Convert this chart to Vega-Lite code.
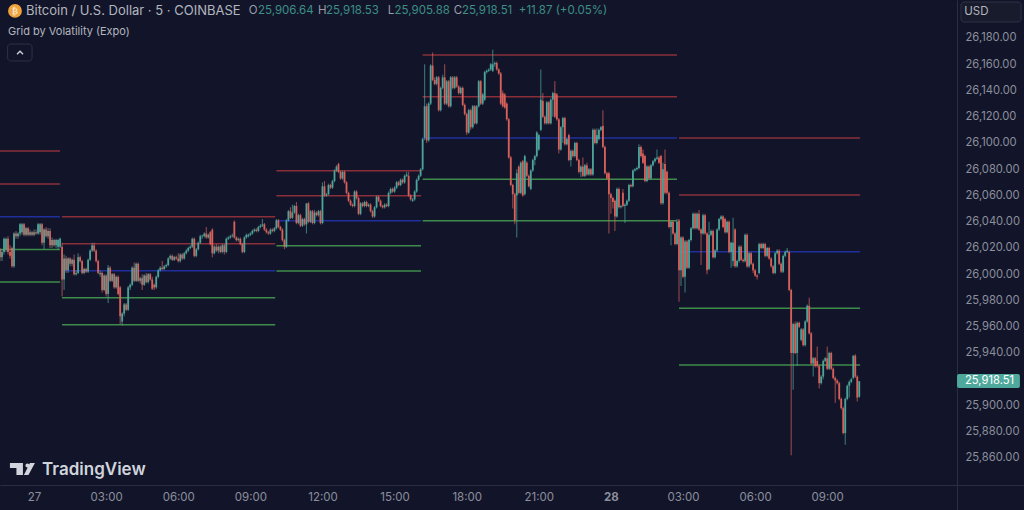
{"$schema":"https://vega.github.io/schema/vega-lite/v6.json","width":1024,"height":510,"padding":0,"autosize":{"type":"none"},"background":"#12152A","view":{"stroke":null,"fill":"#12152A"},"config":{"font":"Inter","text":{"font":"Inter"}},"data":{"values":[{}]},
"datasets":{"levels":[
{"a":-85,"b":65,"p":26093.9,"k":"r"},{"a":-85,"b":65,"p":26068.8,"k":"r"},{"a":-85,"b":65,"p":26043.8,"k":"b"},{"a":-85,"b":65,"p":26018.9,"k":"g"},{"a":-85,"b":65,"p":25994.1,"k":"g"},
{"a":70,"b":602,"p":26043.8,"k":"r"},{"a":70,"b":602,"p":26023.3,"k":"r"},{"a":70,"b":602,"p":26002.7,"k":"b"},{"a":70,"b":602,"p":25982.1,"k":"g"},{"a":70,"b":602,"p":25961.6,"k":"g"},
{"a":605,"b":966,"p":26078.9,"k":"r"},{"a":605,"b":966,"p":26059.8,"k":"r"},{"a":605,"b":966,"p":26040.8,"k":"b"},{"a":605,"b":966,"p":26021.8,"k":"g"},{"a":605,"b":966,"p":26002.5,"k":"g"},
{"a":970,"b":1605,"p":26167.0,"k":"r"},{"a":970,"b":1605,"p":26135.3,"k":"r"},{"a":970,"b":1605,"p":26103.8,"k":"b"},{"a":970,"b":1605,"p":26072.3,"k":"g"},{"a":970,"b":1605,"p":26040.8,"k":"g"},
{"a":1610,"b":2062,"p":26103.8,"k":"r"},{"a":1610,"b":2062,"p":26060.4,"k":"r"},{"a":1610,"b":2062,"p":26017.2,"k":"b"},{"a":1610,"b":2062,"p":25974.1,"k":"g"},{"a":1610,"b":2062,"p":25930.9,"k":"g"}],
"bars":[
{"m":-85,"o":26019,"h":26020,"l":26010,"c":26013},{"m":-80,"o":26013,"h":26019,"l":26010,"c":26017},{"m":-75,"o":26017,"h":26028,"l":26015,"c":26027},{"m":-70,"o":26019,"h":26028,"l":26017,"c":26027},{"m":-65,"o":26027,"h":26029,"l":26015,"c":26017},{"m":-60,"o":26017,"h":26022,"l":26012,"c":26014},{"m":-55,"o":26020,"h":26021,"l":26005,"c":26006},{"m":-50,"o":26006,"h":26032,"l":26005,"c":26031},{"m":-45,"o":26031,"h":26033,"l":26027,"c":26029},{"m":-40,"o":26029,"h":26032,"l":26027,"c":26031},{"m":-35,"o":26031,"h":26039,"l":26029,"c":26038},{"m":-30,"o":26032,"h":26039,"l":26030,"c":26038},{"m":-25,"o":26038,"h":26039,"l":26029,"c":26030},{"m":-20,"o":26030,"h":26036,"l":26029,"c":26035},{"m":-15,"o":26035,"h":26036,"l":26029,"c":26030},{"m":-10,"o":26030,"h":26034,"l":26029,"c":26032},{"m":-5,"o":26032,"h":26033,"l":26029,"c":26030},{"m":0,"o":26030,"h":26034,"l":26029,"c":26032},{"m":5,"o":26032,"h":26034,"l":26030,"c":26031},{"m":10,"o":26031,"h":26039,"l":26030,"c":26038},{"m":15,"o":26032,"h":26039,"l":26030,"c":26038},{"m":20,"o":26038,"h":26039,"l":26022,"c":26024},{"m":25,"o":26024,"h":26035,"l":26019,"c":26034},{"m":30,"o":26034,"h":26036,"l":26028,"c":26029},{"m":35,"o":26029,"h":26035,"l":26027,"c":26033},{"m":40,"o":26033,"h":26035,"l":26020,"c":26022},{"m":45,"o":26022,"h":26028,"l":26020,"c":26026},{"m":50,"o":26026,"h":26027,"l":26021,"c":26022},{"m":55,"o":26022,"h":26027,"l":26020,"c":26026},{"m":60,"o":26021,"h":26027,"l":26019,"c":26026},{"m":65,"o":26021,"h":26028,"l":26020,"c":26027},
{"m":70,"o":26021,"h":26024,"l":25983,"c":25996},{"m":75,"o":25996,"h":26015,"l":25988,"c":26012},{"m":80,"o":26012,"h":26014,"l":26001,"c":26003},{"m":85,"o":26003,"h":26013,"l":26001,"c":26012},{"m":90,"o":26012,"h":26013,"l":26006,"c":26008},{"m":95,"o":26008,"h":26012,"l":26006,"c":26011},{"m":100,"o":26011,"h":26015,"l":25999,"c":26000},{"m":105,"o":26000,"h":26003,"l":25999,"c":26001},{"m":110,"o":26001,"h":26016,"l":26000,"c":26013},{"m":115,"o":26013,"h":26014,"l":26009,"c":26010},{"m":120,"o":26010,"h":26011,"l":26000,"c":26001},{"m":125,"o":26001,"h":26005,"l":26000,"c":26004},{"m":130,"o":26004,"h":26005,"l":26001,"c":26002},{"m":135,"o":26002,"h":26012,"l":26001,"c":26011},{"m":140,"o":26011,"h":26019,"l":26010,"c":26018},{"m":145,"o":26018,"h":26024,"l":26017,"c":26022},{"m":150,"o":26022,"h":26024,"l":26017,"c":26018},{"m":155,"o":26018,"h":26019,"l":26009,"c":26010},{"m":160,"o":26010,"h":26011,"l":26000,"c":26001},{"m":165,"o":26000,"h":26003,"l":25998,"c":26001},{"m":170,"o":26001,"h":26002,"l":25986,"c":25988},{"m":175,"o":25988,"h":26000,"l":25987,"c":25999},{"m":180,"o":25999,"h":26000,"l":25983,"c":25985},{"m":185,"o":25985,"h":26007,"l":25978,"c":26005},{"m":190,"o":26005,"h":26006,"l":25994,"c":25995},{"m":195,"o":25995,"h":26001,"l":25994,"c":26000},{"m":200,"o":26000,"h":26001,"l":25989,"c":25990},{"m":205,"o":25990,"h":25999,"l":25989,"c":25998},{"m":210,"o":25998,"h":25999,"l":25984,"c":25985},{"m":215,"o":25990,"h":25991,"l":25962,"c":25968},{"m":220,"o":25964,"h":25971,"l":25961,"c":25970},{"m":225,"o":25970,"h":25978,"l":25968,"c":25977},{"m":230,"o":25977,"h":25978,"l":25972,"c":25973},{"m":235,"o":25973,"h":25991,"l":25972,"c":25990},{"m":240,"o":25990,"h":25993,"l":25988,"c":25992},{"m":245,"o":25992,"h":26006,"l":25991,"c":26005},{"m":250,"o":26005,"h":26009,"l":25994,"c":25995},{"m":255,"o":25995,"h":26009,"l":25994,"c":26008},{"m":260,"o":26008,"h":26009,"l":25994,"c":25995},{"m":265,"o":25995,"h":25998,"l":25993,"c":25997},{"m":270,"o":25997,"h":26000,"l":25988,"c":25992},{"m":275,"o":25992,"h":26000,"l":25991,"c":25999},{"m":280,"o":25999,"h":26001,"l":25993,"c":25994},{"m":285,"o":25994,"h":26001,"l":25993,"c":26000},{"m":290,"o":26000,"h":26001,"l":25995,"c":25996},{"m":295,"o":25996,"h":25998,"l":25988,"c":25989},{"m":300,"o":25992,"h":25993,"l":25988,"c":25990},{"m":305,"o":25990,"h":25999,"l":25989,"c":25998},{"m":310,"o":25998,"h":26004,"l":25997,"c":26003},{"m":315,"o":26003,"h":26006,"l":26002,"c":26005},{"m":320,"o":26005,"h":26010,"l":26003,"c":26004},{"m":325,"o":26004,"h":26007,"l":26003,"c":26006},{"m":330,"o":26006,"h":26008,"l":26005,"c":26007},{"m":335,"o":26007,"h":26013,"l":26006,"c":26012},{"m":340,"o":26012,"h":26015,"l":26011,"c":26014},{"m":345,"o":26014,"h":26015,"l":26010,"c":26011},{"m":350,"o":26011,"h":26014,"l":26010,"c":26013},{"m":355,"o":26013,"h":26014,"l":26011,"c":26012},{"m":360,"o":26012,"h":26016,"l":26009,"c":26010},{"m":365,"o":26010,"h":26016,"l":26009,"c":26015},{"m":370,"o":26015,"h":26016,"l":26011,"c":26012},{"m":375,"o":26012,"h":26017,"l":26011,"c":26016},{"m":380,"o":26016,"h":26019,"l":26015,"c":26018},{"m":385,"o":26018,"h":26021,"l":26017,"c":26020},{"m":390,"o":26020,"h":26022,"l":26019,"c":26021},{"m":395,"o":26021,"h":26028,"l":26020,"c":26027},{"m":400,"o":26027,"h":26028,"l":26013,"c":26014},{"m":405,"o":26014,"h":26020,"l":26013,"c":26019},{"m":410,"o":26019,"h":26025,"l":26018,"c":26024},{"m":415,"o":26024,"h":26030,"l":26023,"c":26029},{"m":420,"o":26029,"h":26030,"l":26027,"c":26029.5},{"m":425,"o":26029,"h":26032,"l":26028,"c":26031},{"m":430,"o":26031,"h":26036,"l":26027,"c":26028},{"m":435,"o":26028,"h":26031,"l":26027,"c":26030},{"m":440,"o":26032,"h":26033,"l":26022,"c":26023},{"m":445,"o":26034,"h":26035,"l":26013,"c":26016},{"m":450,"o":26016,"h":26022,"l":26015,"c":26021},{"m":455,"o":26021,"h":26023,"l":26017,"c":26018},{"m":460,"o":26018,"h":26022,"l":26016,"c":26021},{"m":465,"o":26021,"h":26022,"l":26016,"c":26017},{"m":470,"o":26017,"h":26023,"l":26016,"c":26022},{"m":475,"o":26022,"h":26023,"l":26015,"c":26017},{"m":480,"o":26017,"h":26028,"l":26016,"c":26027},{"m":485,"o":26027,"h":26029,"l":26026,"c":26028},{"m":490,"o":26028,"h":26030,"l":26027,"c":26029},{"m":495,"o":26029,"h":26031,"l":26028,"c":26029.5},{"m":500,"o":26040,"h":26041,"l":26027,"c":26028},{"m":505,"o":26028,"h":26029,"l":26025,"c":26026},{"m":510,"o":26026,"h":26028,"l":26025,"c":26027},{"m":515,"o":26027,"h":26028,"l":26022,"c":26023},{"m":520,"o":26023,"h":26024,"l":26016,"c":26017},{"m":525,"o":26017,"h":26029,"l":26016,"c":26028},{"m":530,"o":26028,"h":26031,"l":26027,"c":26030},{"m":535,"o":26029,"h":26031,"l":26028,"c":26030},{"m":540,"o":26030,"h":26032,"l":26029,"c":26031},{"m":545,"o":26031,"h":26034,"l":26030,"c":26033},{"m":550,"o":26033,"h":26035,"l":26032,"c":26034},{"m":555,"o":26034,"h":26035,"l":26032,"c":26033},{"m":560,"o":26033,"h":26037,"l":26032,"c":26036},{"m":565,"o":26036,"h":26038,"l":26035,"c":26037},{"m":570,"o":26037,"h":26042,"l":26036,"c":26038},{"m":575,"o":26038,"h":26039,"l":26033,"c":26034},{"m":580,"o":26034,"h":26035,"l":26031,"c":26032},{"m":585,"o":26032,"h":26033,"l":26030,"c":26031},{"m":590,"o":26031,"h":26035,"l":26030,"c":26034},{"m":595,"o":26034,"h":26035,"l":26032,"c":26033},{"m":600,"o":26033,"h":26036,"l":26032,"c":26035},{"m":605,"o":26035,"h":26042,"l":26034,"c":26041},
{"m":610,"o":26041,"h":26042,"l":26035,"c":26036},{"m":615,"o":26036,"h":26037,"l":26033,"c":26034},{"m":620,"o":26034,"h":26035,"l":26025,"c":26026},{"m":625,"o":26026,"h":26027,"l":26019,"c":26021},{"m":630,"o":26021,"h":26042,"l":26020,"c":26041},{"m":635,"o":26041,"h":26049,"l":26040,"c":26048},{"m":640,"o":26048,"h":26051,"l":26042,"c":26043},{"m":645,"o":26043,"h":26053,"l":26042,"c":26047},{"m":650,"o":26047,"h":26053,"l":26046,"c":26052},{"m":655,"o":26052,"h":26055,"l":26038,"c":26039},{"m":660,"o":26039,"h":26046,"l":26038,"c":26045},{"m":665,"o":26045,"h":26046,"l":26036,"c":26037},{"m":670,"o":26037,"h":26043,"l":26036,"c":26042},{"m":675,"o":26042,"h":26043,"l":26037,"c":26038},{"m":680,"o":26038,"h":26054,"l":26031,"c":26054},{"m":685,"o":26054,"h":26055,"l":26039,"c":26040},{"m":690,"o":26040,"h":26049,"l":26039,"c":26048},{"m":695,"o":26048,"h":26049,"l":26038,"c":26039},{"m":700,"o":26039,"h":26049,"l":26038,"c":26047},{"m":705,"o":26047,"h":26048,"l":26044,"c":26045},{"m":710,"o":26045,"h":26049,"l":26044,"c":26048},{"m":715,"o":26048,"h":26049,"l":26038,"c":26039},{"m":720,"o":26039,"h":26070,"l":26038,"c":26067},{"m":725,"o":26067,"h":26071,"l":26059,"c":26060},{"m":730,"o":26060,"h":26062,"l":26059,"c":26061},{"m":735,"o":26061,"h":26069,"l":26060,"c":26068},{"m":740,"o":26068,"h":26069,"l":26065,"c":26066},{"m":745,"o":26066,"h":26072,"l":26065,"c":26071},{"m":750,"o":26071,"h":26080,"l":26070,"c":26079},{"m":755,"o":26079,"h":26083,"l":26078,"c":26082},{"m":760,"o":26084,"h":26085,"l":26077,"c":26078},{"m":765,"o":26078,"h":26079,"l":26072,"c":26073},{"m":770,"o":26073,"h":26079,"l":26072,"c":26078},{"m":775,"o":26078,"h":26079,"l":26069,"c":26070},{"m":780,"o":26070,"h":26071,"l":26061,"c":26062},{"m":785,"o":26062,"h":26063,"l":26055,"c":26056},{"m":790,"o":26056,"h":26057,"l":26052,"c":26053},{"m":795,"o":26053,"h":26054,"l":26051,"c":26052},{"m":800,"o":26052,"h":26064,"l":26051,"c":26063},{"m":805,"o":26063,"h":26064,"l":26057,"c":26058},{"m":810,"o":26058,"h":26059,"l":26045,"c":26046},{"m":815,"o":26046,"h":26055,"l":26045,"c":26054},{"m":820,"o":26054,"h":26055,"l":26051,"c":26052},{"m":825,"o":26052,"h":26056,"l":26051,"c":26055},{"m":830,"o":26055,"h":26056,"l":26051,"c":26052},{"m":835,"o":26052,"h":26054,"l":26051,"c":26053},{"m":840,"o":26053,"h":26054,"l":26047,"c":26048},{"m":845,"o":26048,"h":26049,"l":26043,"c":26044},{"m":850,"o":26044,"h":26052,"l":26043,"c":26051},{"m":855,"o":26051,"h":26060,"l":26050,"c":26059},{"m":860,"o":26059,"h":26060,"l":26055,"c":26056},{"m":865,"o":26056,"h":26057,"l":26051,"c":26052},{"m":870,"o":26052,"h":26053,"l":26050,"c":26051},{"m":875,"o":26051,"h":26054,"l":26050,"c":26053},{"m":880,"o":26053,"h":26054,"l":26051,"c":26052},{"m":885,"o":26052,"h":26063,"l":26051,"c":26062},{"m":890,"o":26062,"h":26066,"l":26061,"c":26065},{"m":895,"o":26065,"h":26066,"l":26062,"c":26063},{"m":900,"o":26063,"h":26067,"l":26062,"c":26066},{"m":905,"o":26066,"h":26071,"l":26065,"c":26070},{"m":910,"o":26070,"h":26071,"l":26067,"c":26068},{"m":915,"o":26068,"h":26073,"l":26067,"c":26072},{"m":920,"o":26072,"h":26073,"l":26069,"c":26070},{"m":925,"o":26070,"h":26076,"l":26069,"c":26075},{"m":930,"o":26075,"h":26078,"l":26074,"c":26076},{"m":935,"o":26075,"h":26078,"l":26059,"c":26060},{"m":940,"o":26060,"h":26061,"l":26056,"c":26057},{"m":945,"o":26056,"h":26058,"l":26055,"c":26057},{"m":950,"o":26057,"h":26064,"l":26056,"c":26063},{"m":955,"o":26063,"h":26073,"l":26062,"c":26072},{"m":960,"o":26072,"h":26076,"l":26071,"c":26075},{"m":965,"o":26075,"h":26081,"l":26074,"c":26080},
{"m":970,"o":26080,"h":26104,"l":26079,"c":26103},{"m":975,"o":26104,"h":26160,"l":26102,"c":26128},{"m":980,"o":26128,"h":26130,"l":26100,"c":26102},{"m":985,"o":26102,"h":26131,"l":26101,"c":26130},{"m":990,"o":26130,"h":26160,"l":26129,"c":26159},{"m":995,"o":26159,"h":26169,"l":26147,"c":26148},{"m":1000,"o":26148,"h":26150,"l":26144,"c":26145},{"m":1005,"o":26145,"h":26151,"l":26144,"c":26150},{"m":1010,"o":26150,"h":26151,"l":26124,"c":26125},{"m":1015,"o":26125,"h":26143,"l":26124,"c":26142},{"m":1020,"o":26142,"h":26152,"l":26141,"c":26150},{"m":1025,"o":26150,"h":26160,"l":26129,"c":26130},{"m":1030,"o":26130,"h":26148,"l":26129,"c":26147},{"m":1035,"o":26147,"h":26148,"l":26127,"c":26128},{"m":1040,"o":26128,"h":26151,"l":26127,"c":26150},{"m":1045,"o":26150,"h":26151,"l":26141,"c":26142},{"m":1050,"o":26142,"h":26151,"l":26141,"c":26150},{"m":1055,"o":26150,"h":26151,"l":26142,"c":26143},{"m":1060,"o":26143,"h":26144,"l":26137,"c":26138},{"m":1065,"o":26138,"h":26143,"l":26137,"c":26142},{"m":1070,"o":26142,"h":26143,"l":26128,"c":26129},{"m":1075,"o":26129,"h":26130,"l":26121,"c":26122},{"m":1080,"o":26122,"h":26123,"l":26106,"c":26108},{"m":1085,"o":26108,"h":26126,"l":26107,"c":26125},{"m":1090,"o":26125,"h":26126,"l":26110,"c":26112},{"m":1095,"o":26112,"h":26129,"l":26111,"c":26128},{"m":1100,"o":26128,"h":26129,"l":26114,"c":26115},{"m":1105,"o":26115,"h":26129,"l":26114,"c":26128},{"m":1110,"o":26128,"h":26148,"l":26127,"c":26147},{"m":1115,"o":26147,"h":26148,"l":26129,"c":26130},{"m":1120,"o":26130,"h":26138,"l":26129,"c":26137},{"m":1125,"o":26133,"h":26155,"l":26132,"c":26154},{"m":1130,"o":26154,"h":26156,"l":26153,"c":26155},{"m":1135,"o":26155,"h":26157,"l":26154,"c":26156},{"m":1140,"o":26156,"h":26161,"l":26155,"c":26160},{"m":1145,"o":26155,"h":26171,"l":26154,"c":26160},{"m":1150,"o":26160,"h":26162,"l":26158,"c":26161},{"m":1155,"o":26161,"h":26162,"l":26155,"c":26156},{"m":1160,"o":26156,"h":26157,"l":26152,"c":26153},{"m":1165,"o":26153,"h":26154,"l":26129,"c":26130},{"m":1170,"o":26138,"h":26140,"l":26127,"c":26128},{"m":1175,"o":26137,"h":26138,"l":26126,"c":26127},{"m":1180,"o":26130,"h":26131,"l":26117,"c":26118},{"m":1185,"o":26118,"h":26119,"l":26088,"c":26089},{"m":1190,"o":26089,"h":26090,"l":26067,"c":26068},{"m":1195,"o":26068,"h":26069,"l":26050,"c":26061},{"m":1200,"o":26061,"h":26062,"l":26038,"c":26041},{"m":1205,"o":26060,"h":26080,"l":26028,"c":26077},{"m":1210,"o":26082,"h":26083,"l":26061,"c":26062},{"m":1215,"o":26062,"h":26086,"l":26061,"c":26085},{"m":1220,"o":26086,"h":26087,"l":26059,"c":26060},{"m":1225,"o":26061,"h":26091,"l":26060,"c":26090},{"m":1230,"o":26085,"h":26086,"l":26074,"c":26075},{"m":1235,"o":26075,"h":26076,"l":26066,"c":26067},{"m":1240,"o":26065,"h":26080,"l":26064,"c":26079},{"m":1245,"o":26079,"h":26088,"l":26078,"c":26087},{"m":1250,"o":26087,"h":26091,"l":26083,"c":26090},{"m":1255,"o":26090,"h":26109,"l":26089,"c":26108},{"m":1260,"o":26095,"h":26107,"l":26094,"c":26106},{"m":1265,"o":26110,"h":26156,"l":26109,"c":26133},{"m":1270,"o":26132,"h":26138,"l":26119,"c":26120},{"m":1275,"o":26120,"h":26121,"l":26114,"c":26115},{"m":1280,"o":26115,"h":26132,"l":26114,"c":26131},{"m":1285,"o":26131,"h":26132,"l":26114,"c":26115},{"m":1290,"o":26115,"h":26134,"l":26114,"c":26133},{"m":1295,"o":26133,"h":26139,"l":26120,"c":26138},{"m":1300,"o":26138,"h":26147,"l":26119,"c":26120},{"m":1305,"o":26137,"h":26138,"l":26117,"c":26118},{"m":1310,"o":26118,"h":26119,"l":26092,"c":26095},{"m":1315,"o":26095,"h":26113,"l":26094,"c":26112},{"m":1320,"o":26112,"h":26120,"l":26100,"c":26119},{"m":1325,"o":26119,"h":26120,"l":26098,"c":26099},{"m":1330,"o":26099,"h":26104,"l":26098,"c":26103},{"m":1335,"o":26106,"h":26107,"l":26086,"c":26087},{"m":1340,"o":26087,"h":26095,"l":26082,"c":26094},{"m":1345,"o":26094,"h":26095,"l":26089,"c":26090},{"m":1350,"o":26090,"h":26101,"l":26089,"c":26100},{"m":1355,"o":26100,"h":26101,"l":26086,"c":26087},{"m":1360,"o":26087,"h":26088,"l":26077,"c":26078},{"m":1365,"o":26078,"h":26083,"l":26074,"c":26082},{"m":1370,"o":26082,"h":26089,"l":26074,"c":26075},{"m":1375,"o":26075,"h":26084,"l":26074,"c":26083},{"m":1380,"o":26083,"h":26085,"l":26075,"c":26076},{"m":1385,"o":26076,"h":26081,"l":26075,"c":26080},{"m":1390,"o":26080,"h":26081,"l":26075,"c":26076},{"m":1395,"o":26076,"h":26111,"l":26075,"c":26110},{"m":1400,"o":26110,"h":26111,"l":26099,"c":26100},{"m":1405,"o":26100,"h":26111,"l":26099,"c":26106},{"m":1410,"o":26103,"h":26111,"l":26102,"c":26110},{"m":1415,"o":26110,"h":26113,"l":26109,"c":26112},{"m":1420,"o":26113,"h":26125,"l":26096,"c":26097},{"m":1425,"o":26097,"h":26098,"l":26076,"c":26077},{"m":1430,"o":26077,"h":26078,"l":26072,"c":26073},{"m":1435,"o":26077,"h":26078,"l":26031,"c":26061},{"m":1440,"o":26061,"h":26062,"l":26046,"c":26058},{"m":1445,"o":26058,"h":26059,"l":26050,"c":26055},{"m":1450,"o":26056,"h":26057,"l":26033,"c":26044},{"m":1455,"o":26044,"h":26066,"l":26043,"c":26065},{"m":1460,"o":26065,"h":26066,"l":26050,"c":26051},{"m":1465,"o":26051,"h":26053,"l":26050,"c":26052},{"m":1470,"o":26062,"h":26065,"l":26051,"c":26052},{"m":1475,"o":26052,"h":26054,"l":26039,"c":26053},{"m":1480,"o":26053,"h":26057,"l":26052,"c":26056},{"m":1485,"o":26056,"h":26069,"l":26055,"c":26068},{"m":1490,"o":26068,"h":26069,"l":26066,"c":26067},{"m":1495,"o":26067,"h":26080,"l":26066,"c":26079},{"m":1500,"o":26079,"h":26081,"l":26078,"c":26080},{"m":1505,"o":26080,"h":26082,"l":26079,"c":26081},{"m":1510,"o":26081,"h":26099,"l":26080,"c":26097},{"m":1515,"o":26097,"h":26098,"l":26089,"c":26090},{"m":1520,"o":26092,"h":26095,"l":26084,"c":26085},{"m":1525,"o":26090,"h":26091,"l":26070,"c":26071},{"m":1530,"o":26071,"h":26083,"l":26070,"c":26082},{"m":1535,"o":26082,"h":26083,"l":26072,"c":26073},{"m":1540,"o":26073,"h":26084,"l":26072,"c":26083},{"m":1545,"o":26083,"h":26087,"l":26082,"c":26086},{"m":1550,"o":26086,"h":26089,"l":26085,"c":26088},{"m":1555,"o":26088,"h":26095,"l":26087,"c":26089},{"m":1560,"o":26089,"h":26090,"l":26084,"c":26085},{"m":1565,"o":26090,"h":26091,"l":26053,"c":26054},{"m":1570,"o":26054,"h":26085,"l":26053,"c":26080},{"m":1575,"o":26084,"h":26095,"l":26061,"c":26062},{"m":1580,"o":26078,"h":26079,"l":26061,"c":26062},{"m":1585,"o":26062,"h":26063,"l":26035,"c":26036},{"m":1590,"o":26036,"h":26041,"l":26022,"c":26040},{"m":1595,"o":26040,"h":26041,"l":26030,"c":26031},{"m":1600,"o":26031,"h":26032,"l":26022,"c":26023},{"m":1605,"o":26023,"h":26042,"l":26022,"c":26040},
{"m":1610,"o":26041,"h":26042,"l":25979,"c":26003},{"m":1615,"o":26003,"h":26029,"l":25991,"c":26028},{"m":1620,"o":26028,"h":26029,"l":25997,"c":25998},{"m":1625,"o":25998,"h":26026,"l":25986,"c":26025},{"m":1630,"o":26025,"h":26026,"l":26004,"c":26005},{"m":1635,"o":26005,"h":26027,"l":26004,"c":26026},{"m":1640,"o":26026,"h":26036,"l":26025,"c":26035},{"m":1645,"o":26035,"h":26047,"l":26034,"c":26046},{"m":1650,"o":26046,"h":26047,"l":26034,"c":26035},{"m":1655,"o":26035,"h":26047,"l":26034,"c":26046},{"m":1660,"o":26046,"h":26049,"l":26033,"c":26034},{"m":1665,"o":26034,"h":26035,"l":26007,"c":26031},{"m":1670,"o":26031,"h":26046,"l":26030,"c":26045},{"m":1675,"o":26045,"h":26046,"l":26030,"c":26031},{"m":1680,"o":26031,"h":26032,"l":26000,"c":26003},{"m":1685,"o":26004,"h":26040,"l":26003,"c":26030},{"m":1690,"o":26030,"h":26034,"l":26029,"c":26033},{"m":1695,"o":26033,"h":26034,"l":26012,"c":26013},{"m":1700,"o":26013,"h":26019,"l":26012,"c":26018},{"m":1705,"o":26018,"h":26035,"l":26017,"c":26034},{"m":1710,"o":26034,"h":26043,"l":26033,"c":26042},{"m":1715,"o":26042,"h":26045,"l":26041,"c":26044},{"m":1720,"o":26044,"h":26045,"l":26035,"c":26036},{"m":1725,"o":26042,"h":26043,"l":26031,"c":26032},{"m":1730,"o":26032,"h":26041,"l":26031,"c":26040},{"m":1735,"o":26040,"h":26041,"l":26016,"c":26017},{"m":1740,"o":26017,"h":26025,"l":26005,"c":26024},{"m":1745,"o":26010,"h":26043,"l":26006,"c":26024},{"m":1750,"o":26034,"h":26035,"l":26005,"c":26006},{"m":1755,"o":26006,"h":26011,"l":26005,"c":26010},{"m":1760,"o":26010,"h":26022,"l":26009,"c":26021},{"m":1765,"o":26021,"h":26022,"l":26010,"c":26011},{"m":1770,"o":26011,"h":26012,"l":26009,"c":26010},{"m":1775,"o":26010,"h":26031,"l":26009,"c":26030},{"m":1780,"o":26030,"h":26031,"l":26005,"c":26006},{"m":1785,"o":26006,"h":26017,"l":26005,"c":26016},{"m":1790,"o":26016,"h":26017,"l":26007,"c":26008},{"m":1795,"o":26008,"h":26009,"l":26001,"c":26003},{"m":1800,"o":26003,"h":26004,"l":25998,"c":25999},{"m":1805,"o":25999,"h":26000,"l":25996,"c":25998},{"m":1810,"o":26001,"h":26024,"l":26000,"c":26023},{"m":1815,"o":26023,"h":26024,"l":26019,"c":26020},{"m":1820,"o":26020,"h":26024,"l":26019,"c":26023},{"m":1825,"o":26023,"h":26024,"l":26013,"c":26014},{"m":1830,"o":26014,"h":26021,"l":26013,"c":26020},{"m":1835,"o":26020,"h":26021,"l":26011,"c":26012},{"m":1840,"o":26012,"h":26013,"l":26005,"c":26006},{"m":1845,"o":26006,"h":26007,"l":26000,"c":26001},{"m":1850,"o":26001,"h":26017,"l":26000,"c":26016},{"m":1855,"o":26016,"h":26019,"l":26015,"c":26018},{"m":1860,"o":26018,"h":26019,"l":26007,"c":26008},{"m":1865,"o":26008,"h":26009,"l":26001,"c":26002},{"m":1870,"o":26002,"h":26015,"l":26001,"c":26014},{"m":1875,"o":26014,"h":26018,"l":26013,"c":26017},{"m":1880,"o":26017,"h":26020,"l":26016,"c":26018},{"m":1885,"o":26017,"h":26018,"l":25987,"c":25988},{"m":1890,"o":25988,"h":25989,"l":25862,"c":25940},{"m":1895,"o":25940,"h":25963,"l":25912,"c":25962},{"m":1900,"o":25962,"h":25964,"l":25939,"c":25940},{"m":1905,"o":25940,"h":25964,"l":25930,"c":25963},{"m":1910,"o":25963,"h":25964,"l":25959,"c":25960},{"m":1915,"o":25950,"h":25959,"l":25949,"c":25958},{"m":1920,"o":25958,"h":25959,"l":25945,"c":25946},{"m":1925,"o":25946,"h":25965,"l":25945,"c":25964},{"m":1930,"o":25964,"h":25977,"l":25963,"c":25976},{"m":1935,"o":25976,"h":25982,"l":25954,"c":25955},{"m":1940,"o":25955,"h":25956,"l":25931,"c":25932},{"m":1945,"o":25932,"h":25937,"l":25922,"c":25936},{"m":1950,"o":25936,"h":25937,"l":25929,"c":25930},{"m":1955,"o":25934,"h":25945,"l":25929,"c":25930},{"m":1960,"o":25930,"h":25931,"l":25913,"c":25917},{"m":1965,"o":25917,"h":25923,"l":25916,"c":25922},{"m":1970,"o":25922,"h":25935,"l":25920,"c":25934},{"m":1975,"o":25934,"h":25937,"l":25933,"c":25936},{"m":1980,"o":25936,"h":25945,"l":25927,"c":25928},{"m":1985,"o":25928,"h":25941,"l":25927,"c":25940},{"m":1990,"o":25940,"h":25941,"l":25927,"c":25928},{"m":1995,"o":25928,"h":25929,"l":25920,"c":25921},{"m":2000,"o":25921,"h":25922,"l":25902,"c":25919},{"m":2005,"o":25919,"h":25920,"l":25916,"c":25917},{"m":2010,"o":25917,"h":25918,"l":25904,"c":25905},{"m":2015,"o":25905,"h":25906,"l":25897,"c":25898},{"m":2020,"o":25898,"h":25899,"l":25878,"c":25879},{"m":2025,"o":25879,"h":25906,"l":25870,"c":25905},{"m":2030,"o":25905,"h":25916,"l":25904,"c":25915},{"m":2035,"o":25915,"h":25919,"l":25906,"c":25918},{"m":2040,"o":25918,"h":25921,"l":25917,"c":25920},{"m":2045,"o":25921,"h":25938,"l":25920,"c":25938},{"m":2050,"o":25938,"h":25939,"l":25921,"c":25922},{"m":2055,"o":25922,"h":25923,"l":25903,"c":25906},{"m":2060,"o":25906.64,"h":25918.53,"l":25905.88,"c":25918.51}]},
"layer":[
{"data":{"name":"levels"},"mark":{"type":"rule","strokeWidth":1.5},"encoding":{"x":{"field":"a","type":"quantitative","title":null,"scale":{"domain":[-85,2471.2],"nice":false,"zero":false},"axis":{"orient":"bottom","offset":-25,"tickCount":40,"values":[0,180,360,540,720,900,1080,1260,1440,1620,1800,1980],"labelExpr":"datum.value%1440==0?''+(27+datum.value/1440):format((datum.value%1440)/60,'02d')+':00'","labelFontWeight":{"condition":{"test":"datum.value==1440","value":"bold"},"value":"normal"},"labelFont":"Inter","labelFontSize":11.5,"labelColor":"#8C8F9C","labelPadding":6,"ticks":false,"grid":false,"domainColor":"#2A2E42","domainWidth":1,"labelOverlap":false,"labelFlush":false}},"x2":{"field":"b"},"y":{"field":"p","type":"quantitative","title":null,"scale":{"domain":[25820.38,26208.95],"nice":false,"zero":false},"axis":{"orient":"right","offset":-67,"tickCount":40,"values":[25860,25880,25900,25940,25960,25980,26000,26020,26040,26060,26080,26100,26120,26140,26160,26180],"format":",.2f","labelFont":"Inter","labelFontSize":11.2,"labelColor":"#8C8F9C","labelPadding":8,"ticks":false,"grid":false,"domainColor":"#2A2E42","domainWidth":1,"labelOverlap":false,"labelBound":false,"labelFlush":false}},"color":{"field":"k","type":"nominal","legend":null,"scale":{"domain":["r","b","g"],"range":["#8A2F3A","#1F2F9C","#3E8C4A"]}}}},
{"data":{"name":"bars"},"mark":{"type":"rule","strokeWidth":1.1,"opacity":0.65},"encoding":{"x":{"field":"m","type":"quantitative"},"y":{"field":"l","type":"quantitative"},"y2":{"field":"h"},"color":{"condition":{"test":"datum.c>=datum.o","value":"#4FA89C"},"value":"#DD635C"}}},
{"data":{"name":"bars"},"mark":{"type":"rule","strokeWidth":1.8,"opacity":0.95},"encoding":{"x":{"field":"m","type":"quantitative"},"y":{"field":"o","type":"quantitative"},"y2":{"field":"c"},"color":{"condition":{"test":"datum.c>=datum.o","value":"#4FA89C"},"value":"#DD635C"}}},
{"mark":{"type":"rect","fill":"#4FA89C","cornerRadius":2},"encoding":{"x":{"datum":2304},"x2":{"datum":2461},"y":{"datum":25913.3},"y2":{"datum":25924}}},
{"mark":{"type":"text","text":"25,918.51","align":"left","baseline":"middle","color":"#FFFFFF","fontSize":11.2},"encoding":{"x":{"datum":2324},"y":{"datum":25918.7}}},
{"mark":{"type":"rect","fill":"#181B2C","stroke":"#2E3244","cornerRadius":3},"encoding":{"x":{"datum":2314},"x2":{"datum":2464},"y":{"datum":26192.2},"y2":{"datum":26207.4}}},
{"mark":{"type":"text","text":"USD","align":"left","baseline":"middle","color":"#B2B5BE","fontSize":11.5},"encoding":{"x":{"datum":2322},"y":{"datum":26199.8}}},
{"mark":{"type":"point","shape":"circle","filled":true,"fill":"#F0A23C","stroke":null,"size":190,"opacity":1},"encoding":{"x":{"datum":-47.6},"y":{"datum":26200.6}}},
{"mark":{"type":"text","text":"₿","font":"DejaVu Sans","align":"center","baseline":"middle","color":"#FBE3C0","fontSize":9,"fontWeight":"bold"},"encoding":{"x":{"datum":-47.6},"y":{"datum":26200.6}}},
{"mark":{"type":"text","text":"Bitcoin / U.S. Dollar · 5 · COINBASE","align":"left","baseline":"middle","color":"#B2B5BE","fontSize":13},"encoding":{"x":{"datum":-20.1},"y":{"datum":26200.6}}},
{"mark":{"type":"text","text":"O","align":"left","baseline":"middle","color":"#9A9DA8","fontSize":11.5},"encoding":{"x":{"datum":536},"y":{"datum":26200.6}}},
{"mark":{"type":"text","text":"25,906.64","align":"left","baseline":"middle","color":"#3D8F85","fontSize":11.5},"encoding":{"x":{"datum":559},"y":{"datum":26200.6}}},
{"mark":{"type":"text","text":"H","align":"left","baseline":"middle","color":"#9A9DA8","fontSize":11.5},"encoding":{"x":{"datum":709},"y":{"datum":26200.6}}},
{"mark":{"type":"text","text":"25,918.53","align":"left","baseline":"middle","color":"#3D8F85","fontSize":11.5},"encoding":{"x":{"datum":729},"y":{"datum":26200.6}}},
{"mark":{"type":"text","text":"L","align":"left","baseline":"middle","color":"#9A9DA8","fontSize":11.5},"encoding":{"x":{"datum":883},"y":{"datum":26200.6}}},
{"mark":{"type":"text","text":"25,905.88","align":"left","baseline":"middle","color":"#3D8F85","fontSize":11.5},"encoding":{"x":{"datum":900},"y":{"datum":26200.6}}},
{"mark":{"type":"text","text":"C","align":"left","baseline":"middle","color":"#9A9DA8","fontSize":11.5},"encoding":{"x":{"datum":1048},"y":{"datum":26200.6}}},
{"mark":{"type":"text","text":"25,918.51","align":"left","baseline":"middle","color":"#3D8F85","fontSize":11.5},"encoding":{"x":{"datum":1068},"y":{"datum":26200.6}}},
{"mark":{"type":"text","text":"+11.87 (+0.05%)","align":"left","baseline":"middle","color":"#3D8F85","fontSize":11.5},"encoding":{"x":{"datum":1210},"y":{"datum":26200.6}}},
{"mark":{"type":"text","text":"Grid by Volatility (Expo)","align":"left","baseline":"middle","color":"#B2B5BE","fontSize":11},"encoding":{"x":{"datum":-65},"y":{"datum":26184.5}}},
{"mark":{"type":"rect","fill":"#12152A","stroke":"#2E3244","cornerRadius":3},"encoding":{"x":{"datum":-66},"x2":{"datum":-5},"y":{"datum":26175.4},"y2":{"datum":26162.5}}},
{"mark":{"type":"point","shape":"M-1,0.5L0,-0.5L1,0.5","filled":false,"stroke":"#D1D4DC","strokeWidth":1.3,"size":36,"opacity":1},"encoding":{"x":{"datum":-35},"y":{"datum":26168.8}}},
{"mark":{"type":"point","shape":"M-1,-.48L.04,-.48L.04,.48L-.48,.48L-.48,-.08L-1,-.08ZM.24,-.28A.16,.16 0 1 1 .56,-.28A.16,.16 0 1 1 .24,-.28ZM.6,-.48L1,-.48L.48,.48L.12,.48Z","filled":true,"fill":"#D1D4DC","stroke":null,"size":625,"opacity":1},"encoding":{"x":{"datum":-29},"y":{"datum":25851.6}}},
{"mark":{"type":"text","text":"TradingView","align":"left","baseline":"middle","color":"#D1D4DC","fontSize":17,"fontWeight":600},"encoding":{"x":{"datum":20},"y":{"datum":25850.7}}}
]}
